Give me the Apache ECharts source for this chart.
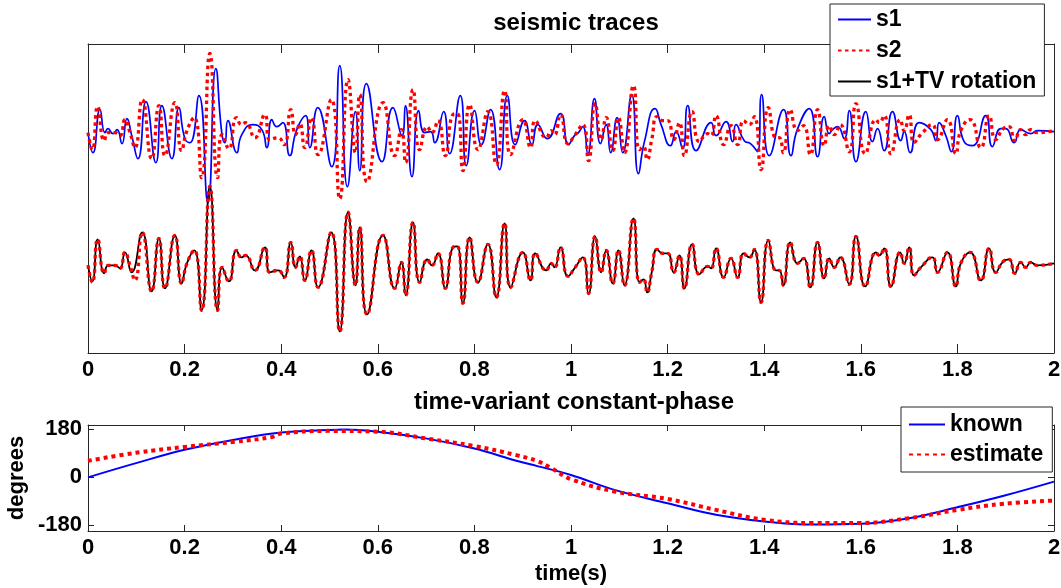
<!DOCTYPE html>
<html>
<head>
<meta charset="utf-8">
<script src="https://cdn.jsdelivr.net/npm/echarts@6/dist/echarts.min.js"></script>
<style>html,body{margin:0;padding:0;background:#fff;}#c{width:1061px;height:588px;}</style>
</head>
<body>
<div id="c"></div>
<script>
// time ticks (s)
const timeTicks = [0, 0.2, 0.4, 0.6, 0.8, 1, 1.2, 1.4, 1.6, 1.8, 2];
const phaseTicks = [-180, 0, 180];

// s1 trace: [time (s), amplitude]
const s1 = [[0,0],[0.0103,-0.2],[0.0248,0.23],[0.0352,0],[0.0414,0.04],[0.0517,-0.01],[0.06,0.03],[0.0703,-0.11],[0.0807,0.14],[0.091,-0.04],[0.1034,-0.26],[0.12,0.31],[0.1406,-0.3],[0.153,0.27],[0.1737,-0.26],[0.1882,0.25],[0.2006,-0.06],[0.211,-0.1],[0.2296,0.37],[0.2482,-0.7],[0.2647,0.64],[0.2771,-0.01],[0.2834,-0.1],[0.2896,0.12],[0.3082,-0.2],[0.3185,-0.02],[0.3413,0.08],[0.3599,0.03],[0.3702,-0.15],[0.3806,0.13],[0.3909,0.06],[0.4033,0.1],[0.4178,-0.23],[0.4323,0.03],[0.4509,0.17],[0.4592,-0.15],[0.4757,0.25],[0.5047,-0.34],[0.5212,0.67],[0.5371,-0.54],[0.5537,0.21],[0.5626,-0.38],[0.5764,0.49],[0.6087,-0.29],[0.6314,0.25],[0.6501,-0.03],[0.6571,0.27],[0.6707,-0.44],[0.6846,0.22],[0.697,0],[0.7094,0.01],[0.7177,-0.1],[0.7363,0.21],[0.7487,-0.21],[0.7708,0.37],[0.7832,-0.33],[0.8004,0.22],[0.8143,-0.12],[0.8335,0.23],[0.8521,-0.37],[0.8681,0.37],[0.8846,-0.12],[0.9038,0.12],[0.9189,-0.12],[0.9313,0.08],[0.9508,-0.06],[0.9783,0.19],[0.9948,-0.12],[1.0072,-0.03],[1.0155,0],[1.0244,0.06],[1.0348,-0.21],[1.0486,0.34],[1.061,-0.11],[1.0728,0.08],[1.0821,-0.2],[1.0955,0.15],[1.1071,-0.2],[1.1257,0.38],[1.1396,-0.41],[1.152,-0.09],[1.1741,0.24],[1.1865,0.08],[1.2058,-0.13],[1.2175,0.01],[1.2312,-0.16],[1.2416,0.27],[1.259,-0.18],[1.29,0.1],[1.3003,-0.03],[1.321,0.11],[1.3346,-0.09],[1.3416,0.08],[1.3588,-0.08],[1.3717,-0.11],[1.3863,-0.19],[1.3946,0.38],[1.4105,-0.23],[1.4401,0.23],[1.4554,-0.23],[1.4685,0.03],[1.4933,0.24],[1.5105,-0.24],[1.5243,0.16],[1.5346,-0.01],[1.5415,0.03],[1.5518,0.06],[1.5657,-0.06],[1.576,0.22],[1.5899,-0.29],[1.6105,0.21],[1.6242,-0.09],[1.6346,0.04],[1.6484,-0.18],[1.6656,0.21],[1.6829,-0.08],[1.6898,0.01],[1.7022,-0.2],[1.7208,0.1],[1.7451,0.03],[1.7554,-0.08],[1.7622,0.1],[1.776,-0.03],[1.7876,-0.19],[1.8,0.17],[1.8139,-0.09],[1.831,-0.13],[1.8587,0.17],[1.8724,-0.14],[1.8898,0.04],[1.9001,0.04],[1.9173,-0.1],[1.9311,0.03],[1.9518,-0.01],[1.9655,0.02],[2,0.01]];

// s2 trace: [time (s), amplitude]
const s2 = [[0,0],[0.0089,-0.17],[0.0201,0.26],[0.0337,-0.08],[0.042,0],[0.0558,0],[0.0662,-0.03],[0.0765,0.13],[0.0869,0],[0.0972,-0.15],[0.1123,0.33],[0.1317,-0.26],[0.1468,0.27],[0.1593,-0.23],[0.1799,0.3],[0.1938,-0.18],[0.2048,0.02],[0.2199,0.15],[0.2352,-0.45],[0.2523,0.79],[0.2683,-0.45],[0.2778,-0.02],[0.2916,-0.16],[0.3075,0.15],[0.3179,0.08],[0.3262,0.1],[0.3454,-0.05],[0.3661,0.18],[0.3764,-0.07],[0.3936,-0.05],[0.406,-0.12],[0.4199,0.23],[0.4296,-0.02],[0.4385,0.09],[0.4488,-0.15],[0.4627,0.15],[0.4763,-0.22],[0.5036,0.33],[0.5212,-0.66],[0.5384,0.53],[0.5537,-0.2],[0.5626,0.38],[0.5777,-0.49],[0.6108,0.3],[0.635,-0.23],[0.6488,0.03],[0.6577,-0.3],[0.6728,0.43],[0.6867,-0.17],[0.7026,0.06],[0.7121,0],[0.7245,0.12],[0.7398,-0.23],[0.7555,0.18],[0.7646,0.19],[0.7762,-0.38],[0.7901,0.28],[0.8072,-0.17],[0.8279,0.21],[0.8453,-0.32],[0.8625,0.42],[0.8749,-0.22],[0.9003,0.13],[0.9162,-0.15],[0.926,0.12],[0.9487,-0.05],[0.9591,0.02],[0.9659,-0.02],[0.9783,0.18],[0.9938,-0.11],[1.0072,-0.03],[1.0244,0.08],[1.0362,-0.28],[1.05,0.29],[1.0625,-0.07],[1.0728,0.15],[1.0865,-0.18],[1.0982,0.15],[1.1107,-0.2],[1.1293,0.47],[1.1417,-0.17],[1.15,-0.14],[1.1576,-0.27],[1.1671,-0.07],[1.1783,0.16],[1.1899,0.12],[1.2002,0.12],[1.2126,-0.07],[1.2244,0.1],[1.2347,-0.23],[1.2507,0.21],[1.2658,-0.09],[1.2829,-0.01],[1.29,-0.03],[1.3003,0.17],[1.316,-0.12],[1.3313,0.07],[1.345,-0.12],[1.3574,0.12],[1.3692,0.08],[1.3795,0.16],[1.3934,-0.37],[1.4085,0.25],[1.4244,-0.05],[1.4312,-0.05],[1.4395,-0.2],[1.454,0.23],[1.4691,0.02],[1.4815,0.07],[1.4954,-0.22],[1.5104,0.23],[1.5243,-0.13],[1.5346,0.07],[1.545,-0.02],[1.5574,0.08],[1.576,-0.19],[1.5899,0.29],[1.6091,-0.21],[1.6313,0.13],[1.6381,0.1],[1.6484,0.17],[1.6623,-0.21],[1.6815,0.13],[1.6898,0.02],[1.7001,0.18],[1.7104,-0.1],[1.7243,-0.02],[1.7483,0.08],[1.7586,-0.07],[1.7793,0.13],[1.7967,-0.21],[1.807,0.02],[1.8263,0.13],[1.8484,-0.15],[1.8656,0.17],[1.8794,-0.07],[1.8951,0.04],[1.9069,0.06],[1.9187,-0.08],[1.9311,0.03],[1.9414,-0.02],[1.9518,0.03],[1.9655,0],[2,0.02]];

// s1 + time-variant rotation: [time (s), amplitude]
const s1tv = [[0,0],[0.0089,-0.16],[0.0201,0.26],[0.0337,-0.08],[0.042,0],[0.0558,0],[0.0662,-0.03],[0.0765,0.13],[0.0903,-0.07],[0.1123,0.33],[0.1317,-0.26],[0.1468,0.27],[0.1593,-0.23],[0.1799,0.3],[0.1938,-0.18],[0.2048,0.02],[0.2199,0.15],[0.2352,-0.45],[0.2523,0.79],[0.2683,-0.45],[0.2778,-0.02],[0.2916,-0.16],[0.3075,0.15],[0.3179,0.08],[0.3262,0.1],[0.3454,-0.05],[0.3661,0.18],[0.3764,-0.07],[0.3936,-0.05],[0.406,-0.12],[0.4199,0.23],[0.4296,-0.02],[0.4385,0.09],[0.4488,-0.15],[0.4627,0.15],[0.4763,-0.22],[0.5036,0.33],[0.5212,-0.66],[0.5384,0.53],[0.5537,-0.2],[0.5626,0.38],[0.5777,-0.49],[0.6108,0.3],[0.635,-0.23],[0.6488,0.03],[0.6577,-0.3],[0.6728,0.43],[0.6867,-0.17],[0.7026,0.06],[0.7121,0],[0.7245,0.12],[0.7398,-0.23],[0.7555,0.18],[0.7646,0.19],[0.7762,-0.38],[0.7901,0.28],[0.8072,-0.17],[0.8279,0.21],[0.8453,-0.32],[0.8625,0.42],[0.8749,-0.22],[0.9003,0.13],[0.9162,-0.15],[0.926,0.12],[0.9487,-0.05],[0.9591,0.02],[0.9659,-0.02],[0.9783,0.18],[0.9938,-0.11],[1.0072,-0.03],[1.0244,0.08],[1.0362,-0.29],[1.05,0.29],[1.0625,-0.07],[1.0728,0.15],[1.0865,-0.18],[1.0982,0.15],[1.1107,-0.2],[1.1293,0.47],[1.1417,-0.17],[1.15,-0.14],[1.1576,-0.27],[1.1671,-0.07],[1.1783,0.16],[1.1899,0.12],[1.2002,0.12],[1.2126,-0.07],[1.2244,0.1],[1.2347,-0.23],[1.2507,0.21],[1.2658,-0.09],[1.2829,-0.01],[1.29,-0.03],[1.3003,0.17],[1.316,-0.12],[1.3313,0.07],[1.345,-0.12],[1.3574,0.12],[1.3692,0.08],[1.3795,0.16],[1.3934,-0.37],[1.4085,0.25],[1.4244,-0.05],[1.4312,-0.05],[1.4395,-0.2],[1.454,0.23],[1.4691,0.02],[1.4815,0.07],[1.4954,-0.22],[1.5104,0.23],[1.5243,-0.13],[1.5346,0.07],[1.545,-0.02],[1.5574,0.08],[1.576,-0.19],[1.5899,0.29],[1.6091,-0.21],[1.6313,0.13],[1.6381,0.1],[1.6484,0.17],[1.6623,-0.21],[1.6815,0.13],[1.6898,0.02],[1.7001,0.18],[1.7104,-0.1],[1.7243,-0.02],[1.7483,0.08],[1.7586,-0.07],[1.7793,0.13],[1.7967,-0.21],[1.807,0.02],[1.8263,0.13],[1.8484,-0.15],[1.8656,0.17],[1.8794,-0.07],[1.8951,0.04],[1.9069,0.06],[1.9187,-0.08],[1.9311,0.03],[1.9414,-0.02],[1.9518,0.03],[1.9655,0],[2,0.02]];

// phase (degrees) vs time (s)
const knownPhase = [[0,0],[0.103,55],[0.2,103],[0.303,141],[0.4,168],[0.495,177],[0.531,179],[0.6,171],[0.702,145],[0.8,108],[0.887,62],[0.93,42],[1.0,9],[1.09,-47],[1.2,-97],[1.3,-140],[1.4,-165],[1.5,-177],[1.6,-174],[1.7,-153],[1.8,-112],[1.896,-69],[2,-16]];
const estimatePhase = [[0,62],[0.103,93],[0.2,114],[0.303,133],[0.381,151],[0.4,164],[0.495,174],[0.6,171],[0.702,145],[0.8,117],[0.887,83],[0.93,61],[0.957,37],[1.0,-7],[1.09,-53],[1.2,-81],[1.3,-122],[1.4,-159],[1.5,-171],[1.6,-171],[1.7,-153],[1.8,-122],[1.896,-99],[2,-87]];

const FONT = "'Liberation Sans', Arial, sans-serif";
const AX = '#262626';
const lbl = { fontFamily: FONT, fontWeight: 'bold', fontSize: 22, color: '#000' };
const SMOOTH = 0.55;

function xAx(grid, pos, showLabel, tickLen, extra) {
  return Object.assign({
    type: 'value', gridIndex: grid, position: pos, min: 0, max: 2, interval: 0.2,
    axisLine: { show: true, onZero: false, lineStyle: { color: AX, width: 1 } },
    axisTick: { show: true, inside: true, length: tickLen, lineStyle: { color: AX } },
    axisLabel: Object.assign({ show: showLabel, margin: 6 }, lbl),
    splitLine: { show: false }
  }, extra || {});
}

const legendText = { fontFamily: FONT, fontWeight: 'bold', fontSize: 23, lineHeight: 23, color: '#000' };

const chart = echarts.init(document.getElementById('c'), null, { renderer: 'canvas' });
chart.setOption({
  animation: false,
  backgroundColor: '#fff',
  title: [
    { text: 'seismic traces', left: 571, top: 6, textAlign: 'center',
      textStyle: { fontFamily: FONT, fontWeight: 'bold', fontSize: 24, color: '#000' } },
    { text: 'time-variant constant-phase', left: 569, top: 385, textAlign: 'center',
      textStyle: { fontFamily: FONT, fontWeight: 'bold', fontSize: 24, color: '#000' } }
  ],
  grid: [
    { left: 88, right: 7, top: 44, height: 309, outerBoundsMode: 'none', containLabel: false },
    { left: 88, right: 7, top: 425, height: 106, outerBoundsMode: 'none', containLabel: false }
  ],
  xAxis: [
    xAx(0, 'bottom', true, 9),
    xAx(0, 'top', false, 9),
    xAx(1, 'bottom', true, 6, { name: 'time(s)', nameLocation: 'middle', nameGap: 32,
      nameTextStyle: { fontFamily: FONT, fontWeight: 'bold', fontSize: 22, color: '#000' } }),
    xAx(1, 'top', false, 6)
  ],
  yAxis: [
    { type: 'value', gridIndex: 0, position: 'left', min: -2.2, max: 0.885,
      axisLine: { show: true, onZero: false, lineStyle: { color: AX } },
      axisTick: { show: false }, axisLabel: { show: false }, splitLine: { show: false } },
    { type: 'value', gridIndex: 0, position: 'right', min: -0.875, max: 2.21,
      axisLine: { show: true, onZero: false, lineStyle: { color: AX } },
      axisTick: { show: false }, axisLabel: { show: false }, splitLine: { show: false } },
    { type: 'value', gridIndex: 1, position: 'left', min: -201, max: 196,
      name: 'degrees', nameLocation: 'middle', nameGap: 60, nameRotate: 90, nameMoveOverlap: false,
      nameTextStyle: { fontFamily: FONT, fontWeight: 'bold', fontSize: 22, color: '#000' },
      axisLine: { show: true, onZero: false, lineStyle: { color: AX } },
      axisTick: { show: true, inside: true, length: 6, customValues: phaseTicks, lineStyle: { color: AX } },
      axisLabel: Object.assign({ show: true, margin: 6, customValues: phaseTicks }, lbl),
      splitLine: { show: false } },
    { type: 'value', gridIndex: 1, position: 'right', min: -201, max: 196,
      axisLine: { show: true, onZero: false, lineStyle: { color: AX } },
      axisTick: { show: true, inside: true, length: 6, customValues: phaseTicks, lineStyle: { color: AX } },
      axisLabel: { show: false }, splitLine: { show: false } }
  ],
  legend: [
    { data: ['s1', 's2', 's1+TV rotation'], orient: 'vertical', left: 830, top: 4,
      padding: [4, 8, 3, 7], itemWidth: 33, itemHeight: 14, itemGap: 8, z: 10,
      itemStyle: { opacity: 0 },
      borderColor: AX, borderWidth: 1, backgroundColor: '#fff', selectedMode: false,
      textStyle: legendText },
    { data: ['known', 'estimate'], orient: 'vertical', left: 901, top: 407,
      padding: [6, 9, 6, 7], itemWidth: 36, itemHeight: 14, itemGap: 7, z: 10,
      itemStyle: { opacity: 0 },
      borderColor: AX, borderWidth: 1, backgroundColor: '#fff', selectedMode: false,
      textStyle: legendText }
  ],
  series: [
    { name: 's1', type: 'line', xAxisIndex: 0, yAxisIndex: 0, data: s1, smooth: SMOOTH,
      symbol: 'none', lineStyle: { color: '#0000ff', width: 1.7 }, itemStyle: { color: '#0000ff' } },
    { name: 's1+TV rotation', type: 'line', xAxisIndex: 0, yAxisIndex: 1, data: s1tv, smooth: SMOOTH,
      symbol: 'none', lineStyle: { color: '#000', width: 1.8 }, itemStyle: { color: '#000' } },
    { name: 's2', type: 'line', xAxisIndex: 0, yAxisIndex: 0, data: s2, smooth: SMOOTH,
      symbol: 'none', lineStyle: { color: '#ff0000', width: 3.3, type: [3.5, 3.5] }, itemStyle: { color: '#ff0000' } },
    { name: 's2', type: 'line', xAxisIndex: 0, yAxisIndex: 1, data: s2, smooth: SMOOTH,
      symbol: 'none', lineStyle: { color: '#ff0000', width: 3.3, type: [3.5, 3.5] }, itemStyle: { color: '#ff0000' } },
    { name: 'known', type: 'line', xAxisIndex: 2, yAxisIndex: 2, data: knownPhase, smooth: 0.4,
      symbol: 'none', lineStyle: { color: '#0000ff', width: 2 }, itemStyle: { color: '#0000ff' } },
    { name: 'estimate', type: 'line', xAxisIndex: 2, yAxisIndex: 2, data: estimatePhase, smooth: 0.4,
      symbol: 'none', lineStyle: { color: '#ff0000', width: 4, type: [4, 4] }, itemStyle: { color: '#ff0000' } }
  ]
});
</script>
</body>
</html>
